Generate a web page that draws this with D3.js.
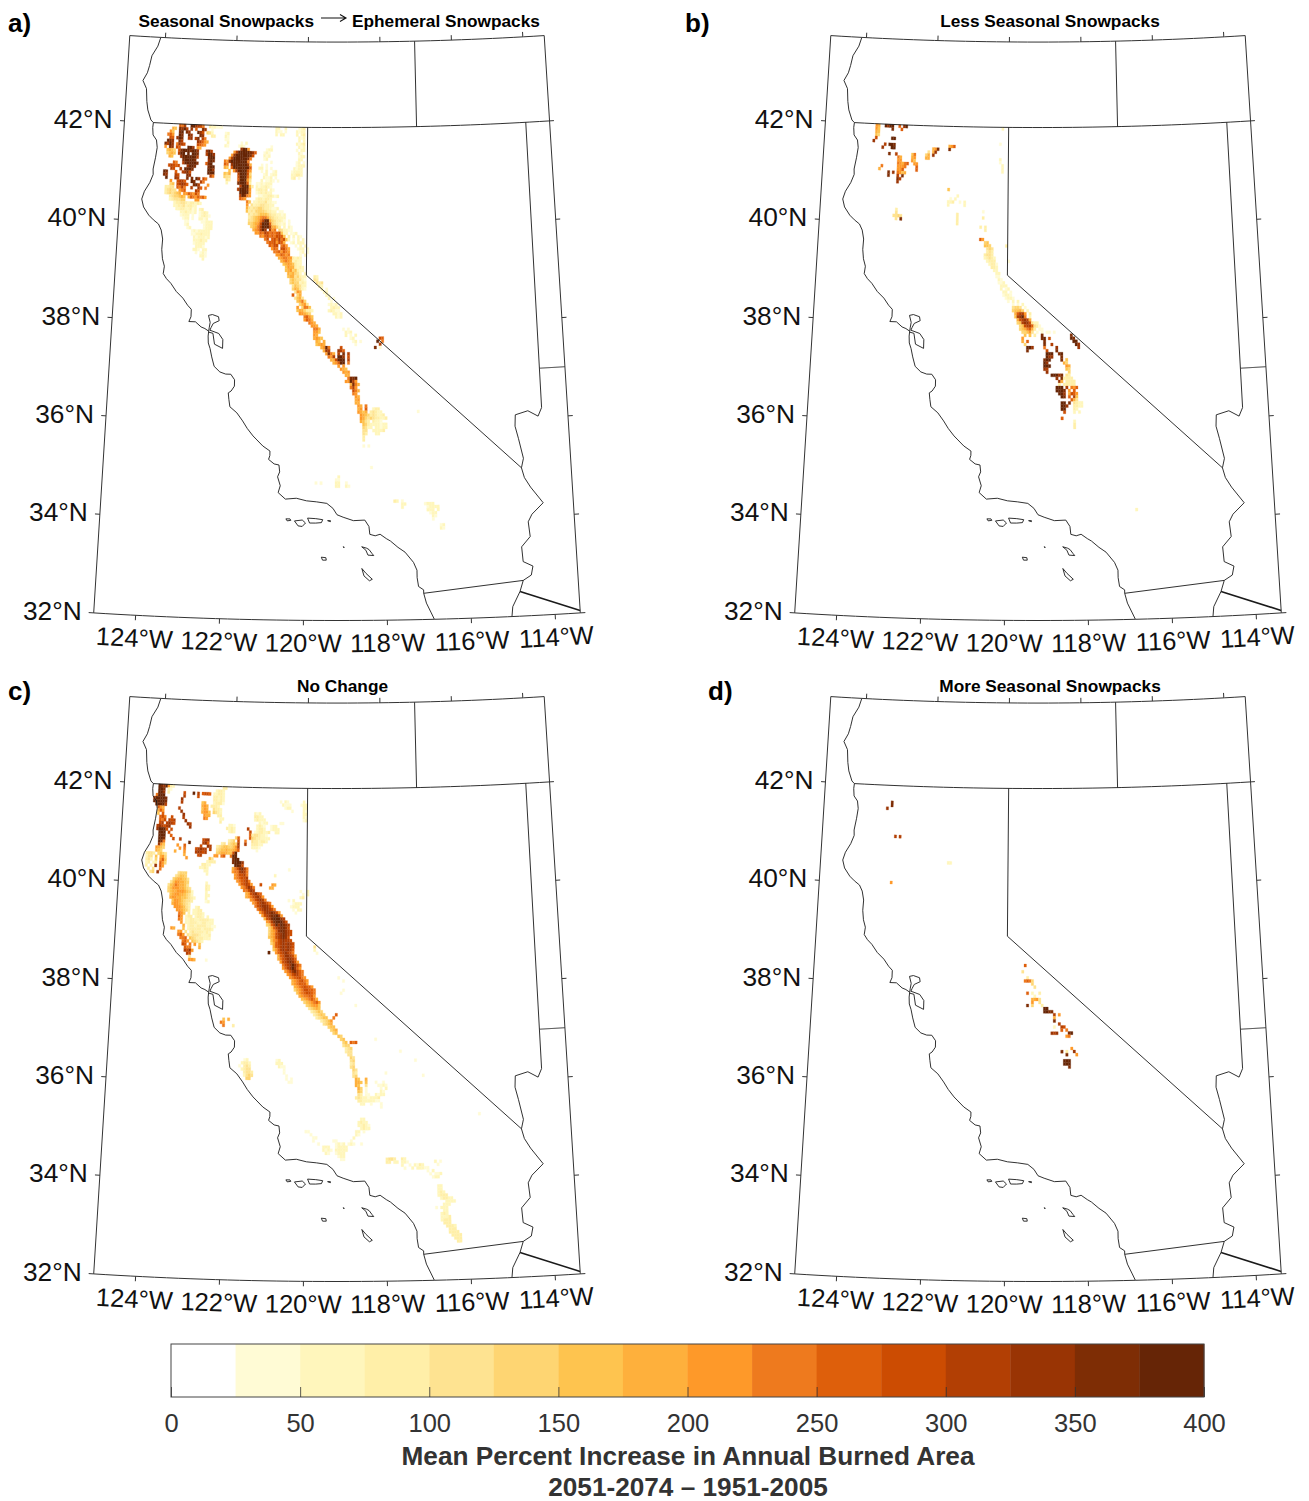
<!DOCTYPE html>
<html lang="en">
<head>
<meta charset="UTF-8">
<title>Burned area change by snowpack class</title>
<script src="https://d3js.org/d3.v7.min.js"></script>
<style>
body { margin: 0; background: #fff; }
svg { display: block; font-family: "Liberation Sans", Arial, sans-serif; }
.geo { fill: none; stroke: #1a1a1a; stroke-width: 0.9; stroke-linejoin: round; }
.frame { fill: none; stroke: #333; stroke-width: 1; }
</style>
</head>
<body>
<div id="chart"></div>
<script>
// colour bins, 25% wide
var binColors = ["#ffffff","#fffbd5","#fff6bc","#ffefa8","#fee391","#fed572","#fec44f","#feb03c","#fe9929","#ee7a1e","#de5f0b","#cc4c02","#b23f04","#993404","#7e2d05","#662506"];
var legendTicks = [0,50,100,150,200,250,300,350,400];
var latTicks = [32,34,36,38,40,42];
var lonTicks = [-124,-122,-120,-118,-116,-114];

// outlines, [lon, lat]
var coast = [[-124.13,43.73],[-124.2,43.55],[-124.35,43.35],[-124.4,43.15],[-124.45,43],[-124.56,42.84],[-124.45,42.68],[-124.42,42.42],[-124.38,42.25],[-124.28,42.05],[-124.21,42],[-124.22,41.9],[-124.2,41.75],[-124.1,41.65],[-124.07,41.5],[-124.1,41.3],[-124.15,41.06],[-124.14,40.95],[-124.22,40.78],[-124.35,40.6],[-124.41,40.44],[-124.35,40.28],[-124.2,40.12],[-124.07,40.03],[-123.93,39.95],[-123.85,39.83],[-123.8,39.65],[-123.81,39.44],[-123.78,39.25],[-123.72,39.1],[-123.74,38.95],[-123.65,38.85],[-123.53,38.76],[-123.38,38.6],[-123.2,38.47],[-123.07,38.33],[-122.97,38.25],[-122.97,38.1],[-123.02,38],[-122.85,38],[-122.7,37.9],[-122.6,37.87],[-122.5,37.82],[-122.51,37.72],[-122.5,37.58],[-122.45,37.47],[-122.4,37.3],[-122.33,37.11],[-122.18,37],[-122.03,36.96],[-121.9,36.96],[-121.8,36.85],[-121.8,36.72],[-121.88,36.62],[-121.95,36.58],[-121.93,36.45],[-121.9,36.3],[-121.72,36.18],[-121.57,36.02],[-121.45,35.87],[-121.3,35.72],[-121.2,35.64],[-121.05,35.52],[-120.87,35.42],[-120.87,35.33],[-120.9,35.25],[-120.76,35.16],[-120.64,35.14],[-120.62,35],[-120.67,34.9],[-120.6,34.72],[-120.65,34.58],[-120.47,34.45],[-120.2,34.47],[-119.95,34.42],[-119.7,34.4],[-119.45,34.37],[-119.3,34.27],[-119.2,34.14],[-119.05,34.09],[-118.8,34.02],[-118.52,34.03],[-118.42,33.9],[-118.4,33.74],[-118.27,33.71],[-118.15,33.74],[-118,33.65],[-117.9,33.6],[-117.72,33.47],[-117.55,33.37],[-117.35,33.16],[-117.27,33],[-117.27,32.85],[-117.24,32.67],[-117.12,32.6],[-117.12,32.53],[-117.06,32.33],[-116.95,32.13],[-116.88,32]];
var bay = [[-122.5,37.82],[-122.49,37.89],[-122.47,38],[-122.52,38.14],[-122.42,38.16],[-122.26,38.12],[-122.24,38.04],[-122.39,37.98],[-122.44,37.9],[-122.47,37.84],[-122.39,37.82],[-122.24,37.78],[-122.13,37.66],[-122.13,37.48],[-122.34,37.56],[-122.39,37.78],[-122.5,37.8]];
var islands = [
  [[-120.45,34.05],[-120.35,34.05],[-120.33,34.02],[-120.42,34.01],[-120.45,34.05]],
  [[-120.24,34.01],[-120.05,34.03],[-119.97,33.97],[-120.05,33.9],[-120.15,33.91],[-120.24,34.01]],
  [[-119.92,34.07],[-119.72,34.06],[-119.55,34.04],[-119.58,33.98],[-119.72,33.97],[-119.87,33.97],[-119.92,34.07]],
  [[-119.43,34.02],[-119.36,34.02],[-119.36,34],[-119.43,34.02]],
  [[-119.58,33.28],[-119.47,33.27],[-119.46,33.22],[-119.55,33.22],[-119.58,33.28]],
  [[-119.05,33.49],[-119.03,33.49],[-119.03,33.47],[-119.05,33.49]],
  [[-118.6,33.49],[-118.48,33.46],[-118.42,33.43],[-118.35,33.35],[-118.31,33.31],[-118.45,33.32],[-118.5,33.42],[-118.6,33.49]],
  [[-118.6,33.05],[-118.5,32.95],[-118.35,32.83],[-118.42,32.8],[-118.55,32.9],[-118.6,33.05]]
];
var caNevada = [[-120,42],[-120,39],[-114.63,35]];
var colorado = [[-114.05,37],[-114.05,36.2],[-114.15,36.03],[-114.4,36.15],[-114.72,36.08],[-114.74,35.85],[-114.67,35.6],[-114.57,35.19],[-114.63,35],[-114.57,34.8],[-114.43,34.6],[-114.14,34.27],[-114.43,34.05],[-114.53,33.9],[-114.5,33.6],[-114.72,33.4],[-114.7,33.1],[-114.47,33],[-114.52,32.82],[-114.72,32.72],[-114.81,32.5],[-115,32.2],[-115.03,32]];
var mexicoLine = [[-117.12,32.53],[-114.72,32.72]];
var sonoraLine = [[-114.81,32.5],[-113.4,32.05]];
var nevadaEast = [[-114.05,42],[-114.05,37]];
var idahoLine = [[-117.03,43.73],[-117.03,42]];

// cells: [row, column, bins]. lat = 42 - row/16, lon = -124.5 + col/16, hex digit = colour bin, "." = no data
var cellsA = [
[0,16,"a9c"],[0,21,"ff"],[0,23,"dcb9"],[0,29,"32211"],[1,13,"76"],[1,16,"edfc"],[1,21,"d.a"],[1,26,"ed"],[1,30,"1"],[2,12,"86"],[2,16,"ef.ed"],[2,24,"fd"],[2,26,"b"],[2,28,"542"],[3,11,"9a8"],[3,16,"fe"],[3,20,"ed"],[3,25,"ed"],[3,30,"33"],[4,12,"ba"],[4,15,"dfe"],[4,20,"cd.ce"],[4,26,"c9"],[5,11,"fed"],[5,16,"ec"],[5,24,"dc"],[5,26,"a87"],[6,10,"ecfd"],[6,15,"9"],[6,16,"dcb"],[6,24,"ba98"],[7,10,"8.ed"],[7,15,"ba"],[7,20,"ffd"],[7,24,"87"],[8,11,"6765"],[8,16,"befffeffd"],[8,28,"dfc"],[9,11,"5676"],[9,16,"cff.f.ffe"],[9,28,"cffd"],[10,12,"76"],[10,17,"dffffffc"],[10,29,"eff"],[11,18,"effffe"],[11,29,"dfe"],[12,14,"a9"],[12,18,"cfffffe"],[12,28,"aef"],[13,12,"bcbab"],[13,20,"dffe"],[13,29,"eff"],[14,13,"cb"],[14,17,"c"],[14,19,"fffe"],[14,29,"ffd"],[15,10,"fe"],[15,15,"a"],[15,18,"cdeb"],[15,29,"fff"],[16,10,"ed"],[16,15,"cb"],[16,20,"ed"],[16,30,"c9"],[17,11,"f"],[17,15,"dc"],[17,20,"e"],[17,22,"e.fd"],[17,27,"b9"],[18,13,"8"],[18,16,"bcca"],[18,22,"fe"],[18,26,"c9"],[19,13,"56"],[19,16,"bcdca"],[19,23,"efc"],[19,29,"8"],[20,11,"3344"],[20,16,"a9c9"],[20,22,"c"],[20,25,"da"],[20,28,"9"],[21,11,"34544"],[21,17,"89a"],[21,24,"cb"],[22,11,"3454567"],[22,19,"88a98b9"],[23,13,"3455676"],[23,21,"7a98a9a8"],[24,13,"2344455"],[24,24,"88"],
[25,15,"233443233232"],[26,15,"2233423322"],[27,16,"223322312.23"],[28,18,"2232212.1232"],[29,18,"1222.1..12321"],[30,19,"122.1..2212"],[31,20,"11.....11222"],[32,20,"12......1222"],[33,21,"12.....1222"],[34,23,"12122222"],[35,23,"11223222"],[36,24,"2122212"],[37,24,"222322"],[38,24,"12222"],[39,25,"2221"],[40,24,"221.22"],[41,25,"1.121"],[42,27,"221"],[43,28,"2"],
[0,34,"1"],[2,36,"12"],[3,36,"21"],[4,36,"11"],[5,37,"2"],[6,36,"21"],[5,43,"1.2"],[6,42,"121"],
[7,43,"dff8"],[8,40,"8cfffffeda"],[9,39,"8dffffffeb"],[10,38,"8cffffffe9"],[11,36,"98dfffffff9"],[12,36,"a9.dffffffd7"],[13,36,"76.afffffffa"],[14,38,"6.8cffffb8"],[15,36,"657...cfffb5"],[16,36,"544...bfffa6"],[17,37,"43...afff84"],[18,37,"2....efffa3"],[19,43,"cfff73"],[20,42,"cfffe8"],[21,43,"ffff8"],[22,43,"cfe98"],
[0,58,"22"],[0,62,"2"],[1,58,"211.1"],[2,58,"2.22"],[0,68,"123"],[1,67,"2122"],[2,67,"2.23"],[3,68,"212"],[4,68,"2.2"],[5,67,"2123"],[6,68,"212"],[7,67,"1.22"],[8,68,"21"],[9,68,"122"],[10,68,"22"],[11,67,"12.1"],[12,67,"1222"],[13,66,"2122"],[14,65,"12222"],[15,65,"22332"],[16,65,"23.1"],
[6,56,"1"],[7,54,"122"],[8,53,"121"],[9,53,"212"],[10,53,"12"],[11,56,"1"],[12,52,"1.1"],[13,51,"22.1.1"],[14,52,"1.2..12"],[15,53,"12.122"],[16,53,"2112.1"],[17,52,"2.1121.1"],[18,50,"1121222"],[19,50,"2122321"],[20,50,"23323.21"],[21,50,"1232322"],
[22,51,"112233212"],[23,43,"a98"],[23,50,"2332332"],[24,46,"96.2233342211"],[25,46,"8.4233443322"],[26,46,"74344554332112"],[27,46,"6343555543322.11"],[28,47,"4344566654332212"],[29,47,"3456789975433222"],[30,47,"445679cff7543321.1"],[31,47,"55678bfffa543212.1"],[32,48,"5679cfffc7753.2.21"],[33,49,"789cfd.c89.542211"],[34,50,"88a9cb9a9ab622.112"],[35,52,"98ab9a9bba6.3.2.21"],[36,54,"9b.ab9c9b62.1.2.2"],[37,55,"9aab8ba7..12.222"],[38,56,"a9bb.9a8...1.2.2"],[39,57,"8a9.bb97...122.1"],[40,58,"99a8a98....12.1"],[41,59,"88a989....1.2"],[42,60,"789988"],[42,66,"3232"],[43,61,"78987"],[43,66,"2322"],[44,62,"67876"],[44,67,"322"],[45,63,"6877"],[45,67,"3232"],[46,63,"67856"],[46,68,"322"],[47,64,"76754"],[47,69,"2.2"],[48,64,"67745"],[48,69,"322"],[48,75,"32"],[49,65,"56544"],[49,70,"21"],[49,75,"43"],[50,65,"56552"],[50,70,"32"],[50,76,"434"],[51,66,"4654"],[51,70,"22"],[51,77,"32"],[52,66,"5764"],[52,70,"21"],[52,78,"2.1"],[53,67,"487"],[53,79,"22"],[54,66,"a.57"],[54,80,"21"],[55,67,"4674"],[55,81,"2.1"],[56,68,"6795"],[56,82,"1"],[57,69,"5784"],[57,81,"1212"],[58,68,"8.5996"],[58,82,"2322"],
[59,68,"6775332"],[59,81,"23211"],[60,69,"88765"],[60,83,"2212"],[61,71,"9a86"],[61,84,"212"],[62,71,"8a97"],[63,73,"987"],[64,74,"887"],[65,75,"997"],[65,87,"1.1"],[66,75,"886"],[66,88,"212"],[67,75,"87"],[67,88,"2.1.2"],[68,75,"7876"],[68,90,"12"],[68,102,"ba"],[69,76,"76.7"],[69,91,"12.1"],[69,101,"f.9"],[70,76,"6787"],[70,92,"1"],[70,102,"c"],[71,78,"78f9"],[71,86,"b"],[71,100,"e.1"],[72,79,"7dc"],[72,85,"dca"],[73,80,"8e97.c"],[73,87,"e.c"],[74,81,"98c"],[74,85,"ffd.b"],[75,82,"77bfff.c"],[76,83,"78aff.9"],[77,85,"8.8"],[78,86,"876"],[79,87,"878"],[80,88,"77"],[81,89,"9eef"],[82,88,"88fc8"],[83,90,"7e97"],[84,90,"9c8"],[85,91,"b97"],[86,91,"98"],[87,92,"87"],[88,92,"78"],[89,92,"77"],[90,93,"87"],[90,96,"9"],[91,93,"78.a"],[91,99,"233"],[92,93,"8767"],[92,98,"34322"],[92,117,"1"],[93,94,"8765"],[93,98,"343223"],[94,94,"87545433223"],[95,94,"7643.3221"],[96,95,"6532222122"],[97,95,"5422.22122"],[98,95,"44..22223"],[99,95,"43...22"],[100,95,"3"],[101,95,"3"],[103,95,"1.1"],
[110,98,"1"],[113,85,"2"],[114,84,"11"],[115,76,"1.1"],[115,84,"22"],[115,88,"1"],[116,84,"22"],[116,88,"21"],[121,107,"32"],[121,110,"1"],[122,110,"22"],[122,119,"1222"],[123,110,"2"],[123,120,"12222"],[124,120,"222.2"],[125,121,"122"],[126,122,"21"],[127,122,"1"],[129,125,"12"],[130,125,"21"]
];
var cellsB = [
[0,14,"87"],[0,18,"fdff"],[0,24,"a.df"],[1,14,"86"],[1,21,"e"],[1,25,"a"],[2,14,"76"],[3,14,"65"],[4,14,"b"],[4,21,"ff"],[5,13,"d"],[6,18,"c.ffe"],[6,46,"78a"],[7,17,"d"],[7,21,"ff"],[7,46,"e"],[7,39,"78e"],[8,37,"4.7d"],[9,36,"57.d"],[9,20,"e"],[9,23,"c"],[9,30,"69"],[10,24,"97"],[10,30,"78"],[10,36,"77"],[11,24,"88"],[11,30,"86"],[12,24,"9879a"],[12,31,"88"],[13,17,"9"],[13,24,"8889"],[13,32,"a"],[14,16,"7"],[14,24,"88a"],[14,32,"a"],[15,20,"e"],[15,22,"d.9867"],[16,20,"e"],[16,24,"c.e"],[17,24,"ec"],[18,24,"d"],
[0,69,"2"],[5,68,"1"],[10,68,"2"],[11,68,"1"],[12,69,"2"],[13,69,"2"],[14,69,"2"],
[20,46,"6"],[22,50,"2"],[23,47,"1.2"],[24,46,"223"],[24,51,"1.2"],[25,46,"2"],[25,53,"2"],[27,24,"3"],[28,24,"4"],[28,50,"3"],[29,23,"4454"],[29,50,"3"],[30,50,"3"],[30,24,"4"],[30,26,"e"],[31,50,"3"],
[27,61,"1"],[29,61,"3"],[32,60,"3"],[32,62,"3"],[33,62,"3"],[36,60,"a8"],[37,62,"56"],[38,62,"665"],[38,71,"3"],[39,63,"454"],[40,63,"343"],[41,62,"3443"],[42,62,"23432"],[43,63,"2333"],[43,72,"1"],[44,64,"2331"],[45,65,"332"],[46,66,"22"],[47,67,"22"],[48,67,"11"],[49,68,"21"],[50,68,"112"],[51,69,"222"],[52,69,"2.12"],[53,70,"22.1"],[54,70,"1221"],[55,71,"1221"],
[56,72,"1.2"],[56,76,"2"],[57,74,"1.1"],[57,78,"2"],[58,74,"4554"],[58,79,"1"],[59,74,"56675"],[59,80,"2"],[60,75,"7acc8"],[60,81,"3"],[61,75,"6cdf9"],[61,81,"2"],[62,76,"7bcdc7"],[63,76,"56cddb4"],[63,83,"22"],[64,77,"56bcca43"],[64,85,"1"],[65,77,"5679a73"],[65,85,"11"],[66,78,"55684"],[66,84,"1.1.11.1"],[67,79,"6"],[67,81,"6.3"],[67,86,"e"],[67,98,"e"],[68,78,"8"],[68,86,"ef"],[68,89,"b"],[68,98,"fe"],[69,78,"7.a"],[69,87,"e"],[69,99,"ff"],[70,79,"5"],[70,87,"e"],[70,90,"c"],[70,100,"fd"],[71,80,"ffd"],[71,87,"9"],[71,92,"d"],[71,101,"d"],[72,80,"e"],[72,88,"b"],[72,92,"e"],[73,88,"fff"],[73,93,"ef"],[74,88,"fdd"],[74,94,"e"],[75,87,"eff"],[75,94,"e"],[75,96,"6"],[76,87,"fd"],[76,95,"75"],[77,87,"fff"],[77,96,"87"],[78,87,"dc"],[78,96,"65"],[79,88,"d"],[79,97,"5"],[80,90,"fff"],[80,93,"de"],[80,96,"43"],[81,92,"d"],[81,94,"e3"],[81,96,"333"],[82,93,"d7"],[82,96,"3333"],[83,93,"3.3"],[83,96,"3333"],[84,92,"fff"],[84,96,"c"],[84,98,"98a"],[85,92,"fffe"],[85,97,"8"],[85,99,"a"],[86,93,"ffd"],[86,97,"7ba8"],[87,94,"fe"],[87,97,"a"],[87,99,"c6"],[88,98,"a74"],[89,94,"ff"],[89,97,"e"],[89,99,"4322"],[90,94,"ffd"],[90,99,"3322"],[91,94,"ff"],[91,99,"32"],[92,95,"b"],[92,99,"2.2"],[94,94,"a"],[95,99,"2"],[96,99,"3"],[97,99,"3"],[124,123,"2"]
];
var cellsC = [
[0,7,"fedf8"],[0,12,"32"],[0,35,"33"],[1,7,"ffe"],[1,11,"21"],[1,32,"2332"],[2,7,"ffd"],[2,11,"3"],[2,18,"b"],[2,22,"f"],[2,24,"c"],[2,26,"abba"],[2,31,"22332"],[3,6,"9fff"],[3,18,"c"],[3,24,"b"],[3,31,"33232"],[4,5,"cffffe"],[4,17,"d"],[4,31,"33232"],[4,60,"1.21"],[4,70,"2"],[5,5,"fffffe"],[5,17,"c"],[5,26,"67"],[5,31,"23331"],[5,61,"2111"],[5,69,"122"],[6,6,"efffc"],[6,26,"787"],[6,30,"3332"],[6,62,"122"],[6,70,"22"],[7,7,"a87"],[7,16,"c"],[7,26,"687"],[7,31,"4332"],[7,65,"1"],[7,70,"21"],[8,7,"7a8"],[8,17,"d"],[8,26,"7886"],[8,31,"5432"],[8,49,"212"],[8,70,"22"],[9,7,"6.a"],[9,18,"d"],[9,27,"877"],[9,33,"33"],[9,49,"3322"],[9,70,"21"],[10,8,"ab9"],[10,13,"b"],[10,18,"c"],[10,27,"98"],[10,34,"22"],[10,49,"23222"],[10,70,"12"],
[11,8,"a9b"],[11,12,"cbc"],[11,19,"d"],[11,34,"3"],[11,51,"2122"],[11,60,"11"],[12,8,"bc"],[12,11,"cdcb"],[12,20,"dc"],[12,38,"221"],[12,50,"2321"],[12,56,"122"],[13,7,"cdcbcd"],[13,21,"d"],[13,37,"3232"],[13,46,"c"],[13,50,"2332"],[13,56,"1222"],[14,7,"dfffb"],[14,13,"b"],[14,38,"232"],[14,47,"b"],[14,49,"1233223"],[14,58,"22"],[15,8,"fff"],[15,12,"b"],[15,47,"a3443221"],[16,8,"fff"],[16,13,"a"],[16,41,"5"],[16,42,"a"],[16,47,"a54332222"],[17,8,"ffe"],[17,14,"b"],[17,17,"c"],[17,27,"bcd"],[17,38,"345"],[17,42,"b"],[17,45,"9"],[17,48,"4332332"],[18,8,"fe9"],[18,21,"f"],[18,27,"cda"],[18,35,"34"],[18,38,"4565"],[18,42,"c"],[18,45,"c"],[18,48,"33322"],[19,8,"d86"],[19,16,"8"],[19,19,"a"],[19,26,"b"],[19,29,"dc"],[19,33,"345665"],[19,39,"56"],[19,41,"8c"],[19,48,"2221"],[20,7,"8765"],[20,17,"8.9"],[20,24,"bcdcc.c"],[20,33,"456676"],[20,39,"678a"],[20,50,"1"],[21,7,"765"],[21,15,"7"],[21,19,"8"],[21,24,"cdcbc"],[21,33,"5677766"],[21,40,"bf"],[22,3,"3443.5654"],[22,19,"7"],[22,25,"bc"],[22,32,"88.9a"],[22,39,"9ff"],[23,3,"244.6.785"],[23,20,"8"],[23,30,"64"],[23,40,"eff"],[24,3,"342.5.8a6"],[24,29,"2333"],[24,40,"efffd"],[25,3,"23.23.a85"],[25,27,"3322"],[25,41,"ffeb"],[26,3,"3.2.d.a8"],[26,26,"2232"],[26,40,"79bdec9"],[26,64,"1"],[27,4,"3.4..9"],[27,28,"22"],[27,40,"899cdc9"],[28,5,"45"],[28,8,"d"],[28,17,"4555"],[28,29,"2"],[28,41,"89bbc9"],[28,58,"2"],
[29,16,"45665"],[29,41,"89abbc"],[30,15,"5677664"],[30,42,"89abc9"],[31,14,"46887765"],[31,29,"2"],[31,43,"8abcb8"],[31,52,"b"],[31,57,"87"],[32,13,"467987764"],[32,29,"32"],[32,44,"89bdc9"],[32,56,"77"],[33,13,"5688877654"],[33,29,"32"],[33,45,"99bdc"],[33,69,"1"],[33,72,"2"],[34,13,"56778887652"],[34,29,"2"],[34,46,"78bcdb"],[34,52,"a"],[34,70,"1.2"],[35,14,"6788776542"],[35,29,"22"],[35,46,"789bcdb8"],[35,69,"23"],[36,14,"78877665432"],[36,29,"2"],[36,48,"89bcdc9"],[36,64,"1.2"],[37,15,"688765443"],[37,29,"12"],[37,49,"89bcdcb9"],[37,66,"1222"],[38,15,"78876543"],[38,50,"9bcdddb8"],[38,65,"1222"],[39,16,"8887643"],[39,25,"23"],[39,51,"9bcddcb9"],[39,66,"1.22"],[40,17,"887653"],[40,24,"2233"],[40,52,"8acddedb8"],[40,67,"1"],[41,18,"986.3"],[41,24,"22332"],[41,53,"8bcdeefd8"],[42,18,"a8.233"],[42,25,"2332.2"],[42,54,"7bcefffdc"],[43,18,"98.2233"],[43,25,"22333322"],[43,55,"89cefffdb"],[44,19,"8.22333"],[44,26,"2233222"],[44,55,"56acfdfedc"],[45,20,"7.2332"],[45,26,"33332211"],[45,56,"57acdeedb"],[46,15,"87"],[46,20,"6.2333"],[46,26,"3323332"],[46,56,"578adeedcb"],[47,18,"88"],[47,21,"4.3433332"],[47,30,"32"],[47,56,"578bcdedcb"],[48,18,"9a8"],[48,22,"43444322"],[48,30,"23"],[48,56,"678bcdedb"],[49,19,"99a"],[49,23,"654333222"],[49,57,"689bcdccb"],[50,20,"9a8"],[50,24,"65432"],[50,57,"57abcdcdcb"],[51,20,"ba"],[51,23,"9"],[51,25,"8.6"],[51,58,"7abcdcdcb"],[51,75,"4"],[52,21,"a99"],[52,27,"7"],[52,58,"68acdcdca"],[52,75,"2"],[53,21,"cbd8"],[53,56,"f"],[53,59,"8abcdcb9"],[53,76,"1"],[54,22,"cb"],[54,60,"7abddcb8"],[55,23,"4"],[55,60,"79bcddca"],[56,23,"887"],[56,30,"1"],[56,61,"8bcdedb8"],[57,62,"9bcdfdb9"],[58,62,"8acdfda8"],[59,63,"89bdeca9"],[60,64,"89bcca9"],[61,65,"89abb98"],[61,85,"1"],[62,66,"789ab98"],[62,87,"1"],[63,66,"789aaa8"],[64,67,"789abaa8"],[65,67,"5789bbaa9"],[65,87,"1"],[66,68,"689abba9"],[66,86,"1"],[67,69,"7899aa8"],[68,70,"6789a97"],[69,71,"56789a8"],[70,72,"567886"],[70,92,"1"],[71,73,"45676"],[72,74,"34565"],[73,75,"34565"],[73,84,"a"],[74,76,"34566"],[74,83,"9"],[75,38,"6.7"],[75,78,"3456"],[75,82,"8"],[76,37,"98"],[76,79,"4567"],[77,38,"9"],[77,42,"3"],[77,81,"566"],[78,82,"567"],[79,83,"56"],[80,85,"65"],[81,86,"56"],[81,100,"1"],[82,87,"56.a9a"],[83,87,"455"],[84,88,"345"],[85,88,"344"],[85,110,"1"],[86,89,"44"],[87,90,"54"],[88,90,"45"],[88,47,"12"],[88,60,"12"],[88,116,"1"],[89,90,"34"],[89,46,"2332"],[89,60,"222"],[90,90,"45"],[90,45,"1.343"],[90,61,"211"],[91,91,"54"],[91,46,"2344"],[91,63,"1"],[92,91,"43"],[92,47,"3443"],[92,63,"1"],[92,104,"1"],[93,91,"45"],[93,47,"2454"],[93,64,"1"],[93,119,"1"],[94,92,"76"],[94,96,"7"],[94,48,"55"],[94,64,"1.1"],[95,92,"776"],[95,96,"6"],[95,100,"1"],[95,103,"1"],[95,65,"11"],[96,92,"76"],[96,96,"4"],[96,101,"11"],[96,103,"21"],[97,93,"75"],[97,96,"1"],[97,102,"1.2"],[98,93,"65"],[98,96,"1"],[98,102,"21"],[99,93,"43"],[99,96,"11"],[99,100,"2122"],[100,92,"3432212223"],[101,93,"332222211"],[102,94,"22"],[102,98,"1"],[102,102,"1"],[103,102,"1"],[106,141,"1"],
[107,94,"22"],[108,93,"2322"],[109,93,"22321"],[110,94,"2322"],[111,72,"11"],[111,92,"22.1"],[112,74,"1"],[112,92,"21"],[113,75,"11"],[113,91,"2"],[114,75,"1"],[114,83,"11"],[114,90,"1"],[115,77,"1"],[115,84,"1212"],[115,89,"121"],[115,94,"1"],[116,79,"222"],[116,84,"12222"],[117,79,"2121"],[117,84,"22222"],[118,80,"21"],[118,84,"1222"],[119,85,"122"],[120,86,"11"],
[120,104,"3443"],[120,110,"32"],[121,104,"33.22"],[121,110,"221"],[121,123,"2.1"],[122,110,"2"],[122,113,"1.2132"],[122,124,"1"],[123,111,"1"],[123,114,"2.2221"],[123,120,"1"],[124,120,"1.2"],[125,121,"1.11"],[125,125,"2"],[126,122,"12"],[126,124,"2"],[129,124,"22"],[130,124,"22"],[131,124,"232"],[132,124,"2333"],[133,125,"23322"],[134,127,"2222"],[135,126,"222"],[136,123,"1.222"],[137,126,"22"],[138,125,"232"],[139,125,"2223"],[140,125,"2333"],[141,126,"333"],[142,127,"3332"],[143,128,"333"],[144,128,"3333"],[145,129,"3333"],[146,130,"333"],[147,131,"33"]
];
var cellsD = [
[5,21,"e"],[6,21,"e"],[7,19,"d"],[16,23,"c"],[16,25,"c"],[24,46,"22"],[31,22,"8"],
[57,79,"a"],[59,78,"4"],[61,80,"3"],[62,79,"9a9"],[62,82,"5"],[63,82,"5"],[64,83,"4"],[66,80,"a"],[66,82,"2"],[66,85,"3"],[67,83,"2"],[68,82,"77"],[68,84,"84"],[69,82,"8"],[69,85,"4"],[70,80,"e"],[70,82,"5"],[70,86,"3"],[71,87,"ff"],[72,87,"ffee"],[73,91,"c"],[73,93,"8"],[74,91,"7"],[75,91,"e"],[76,93,"c"],[77,94,"cb"],[77,91,"2"],[78,94,"a"],[78,96,"9"],[79,90,"dcd"],[79,97,"ef"],[80,96,"89"],[84,98,"8"],[85,94,"e"],[85,96,"3"],[85,99,"d"],[86,96,"e"],[86,100,"8"],[88,95,"fff"],[89,95,"fff"],[90,97,"e"]
];

var panelCells = [cellsA, cellsB, cellsC, cellsD];
var panelNames = ["a)","b)","c)","d)"];
var panelTitles = ["", "Less Seasonal Snowpacks", "No Change", "More Seasonal Snowpacks"];

var width = 1309, height = 1501;
var svg = d3.select("#chart").append("svg").attr("width", width).attr("height", height);

var lon0 = -125, lon1 = -113.4, latBottom = 32, latTop = 43.73;
var projection = d3.geoConicConformal()
    .parallels([32, 44])
    .rotate([119.2, 0])
    .center([0, 32])
    .scale(2836)
    .translate([337, 620.5]);
var coneN = 0.63;

var line = d3.line().curve(d3.curveLinear);
function draw(points) { return line(points.map(function(p) { return projection(p); })); }
function parallel(lat, a, b) {
    return d3.range(0, 41).map(function(i) { return [a + (b - a) * i / 40, lat]; });
}

// 16 bins of 25%
var binScale = d3.scaleQuantize().domain([0, 400]).range(binColors);

var offsets = [[0, 0], [701, 0], [0, 661], [701, 661]];
var nameX = [8, 685, 8, 708];
var nameY = [32, 32, 700, 700];
var titleY = [27, 27, 31, 31];

offsets.forEach(function(off, k) {
    var g = svg.append("g").attr("transform", "translate(" + off[0] + "," + off[1] + ")");

    // burned area cells
    var cells = [];
    panelCells[k].forEach(function(row) {
        row[2].split("").forEach(function(ch, i) {
            if (ch === ".") return;
            cells.push({ row: row[0], col: row[1] + i, value: parseInt(ch, 16) * 25 + 12.5 });
        });
    });
    g.append("g").selectAll("path").data(cells).join("path")
        .attr("d", function(d) {
            var w = -124.5 + d.col / 16, n = 42 - d.row / 16;
            return draw([[w, n], [w + 1 / 16, n], [w + 1 / 16, n - 1 / 16], [w, n - 1 / 16]]) + "Z";
        })
        .attr("fill", function(d) { return binScale(d.value); })
        .attr("stroke", function(d) { return binScale(d.value); })
        .attr("stroke-width", 0.25);

    // coast and borders
    var geo = g.append("g").attr("class", "geo");
    [coast, bay, caNevada, colorado, mexicoLine, nevadaEast, idahoLine].concat(islands).forEach(function(l) {
        geo.append("path").attr("d", draw(l));
    });
    geo.append("path").attr("d", draw(sonoraLine)).attr("stroke-width", 1.6);
    geo.append("path").attr("d", draw(parallel(42, -124.21, lon1)));
    geo.append("path").attr("d", draw(parallel(37, -114.05, lon1)));

    // map frame
    var ring = parallel(latTop, lon0, lon1).concat(parallel(latBottom, lon1, lon0));
    g.append("path").attr("class", "frame").attr("d", draw(ring) + "Z");

    // ticks and labels
    var ticks = g.append("g").attr("class", "frame");
    latTicks.forEach(function(lat) {
        ticks.append("path").attr("d", draw([[lon0, lat], [lon0 - 0.12, lat]]));
        ticks.append("path").attr("d", draw([[lon1, lat], [lon1 + 0.12, lat]]));
        var p = projection([lon0, lat]);
        g.append("text").attr("x", p[0] - 12).attr("y", p[1])
            .attr("text-anchor", "end").attr("dominant-baseline", "middle")
            .attr("font-size", 26.3).attr("fill", "#111")
            .text(lat + "°N");
    });
    lonTicks.forEach(function(lon) {
        ticks.append("path").attr("d", draw([[lon, latTop], [lon, latTop + 0.1]]));
        ticks.append("path").attr("d", draw([[lon, latBottom], [lon, latBottom - 0.1]]));
        var p = projection([lon, latBottom - 0.5]);
        g.append("text")
            .attr("transform", "translate(" + p[0] + "," + p[1] + ") rotate(" + (-coneN * (lon + 119.2)) + ")")
            .attr("text-anchor", "middle").attr("dominant-baseline", "middle")
            .attr("font-size", 25.5).attr("fill", "#111")
            .text(Math.abs(lon) + "°W");
    });

    g.append("text").attr("x", nameX[k] - off[0]).attr("y", nameY[k] - off[1])
        .attr("font-size", 26).attr("font-weight", "bold").text(panelNames[k]);

    if (panelTitles[k]) {
        g.append("text").attr("x", k % 2 ? 349 : 342.5).attr("y", titleY[k])
            .attr("text-anchor", "middle").attr("font-size", 17.25).attr("font-weight", "bold")
            .text(panelTitles[k]);
    } else {
        g.append("text").attr("x", 314).attr("y", titleY[k]).attr("text-anchor", "end")
            .attr("font-size", 17.25).attr("font-weight", "bold").text("Seasonal Snowpacks");
        g.append("text").attr("x", 352).attr("y", titleY[k])
            .attr("font-size", 17.25).attr("font-weight", "bold").text("Ephemeral Snowpacks");
        g.append("path").attr("d", "M321,18H346M340,14.5L346,18L340,21.5").attr("fill", "none").attr("stroke", "#111").attr("stroke-width", 1.1);
    }
});

// colour bar
var legendX = d3.scaleLinear().domain([0, 400]).range([171, 1204]);
var legend = svg.append("g");
legend.selectAll("rect").data(binColors).join("rect")
    .attr("x", function(d, i) { return legendX(i * 25); })
    .attr("y", 1344)
    .attr("width", function(d, i) { return legendX((i + 1) * 25) - legendX(i * 25) + 0.4; })
    .attr("height", 53)
    .attr("fill", function(d) { return d; });
legend.append("rect").attr("x", 171).attr("y", 1344).attr("width", 1033).attr("height", 53)
    .attr("fill", "none").attr("stroke", "#444").attr("stroke-width", 1);
var axis = legend.append("g").attr("transform", "translate(0,1397)")
    .call(d3.axisBottom(legendX).tickValues(legendTicks).tickSize(-10).tickPadding(17));
axis.select(".domain").remove();
axis.selectAll("line").attr("stroke", "#333").attr("stroke-width", 0.8);
axis.selectAll("text").attr("font-size", 25.5).attr("font-family", "Liberation Sans").attr("fill", "#333");

svg.append("text").attr("x", 688).attr("y", 1465).attr("text-anchor", "middle")
    .attr("font-size", 26.2).attr("font-weight", "bold").attr("fill", "#333")
    .text("Mean Percent Increase in Annual Burned Area");
svg.append("text").attr("x", 688).attr("y", 1496).attr("text-anchor", "middle")
    .attr("font-size", 26.2).attr("font-weight", "bold").attr("fill", "#333")
    .text("2051-2074 – 1951-2005");
</script>
</body>
</html>
